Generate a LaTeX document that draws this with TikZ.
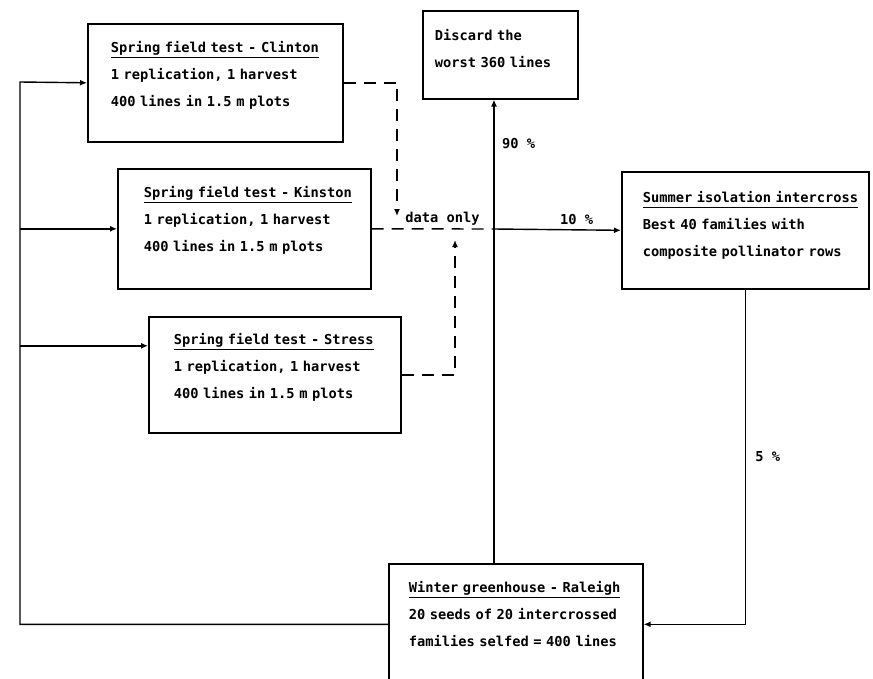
\documentclass[tikz,border=0pt]{standalone}
\usepackage{fontspec}
\setmainfont{DejaVu Sans Mono}
\usetikzlibrary{arrows.meta}
\newcommand{\ttl}[1]{\underline{#1\vphantom{g}}}

\begin{document}
\begin{tikzpicture}[x=1pt, y=-1pt, >={Latex[length=7pt, width=6pt]},
    font=\fontsize{13.7}{27}\selectfont\bfseries, line width=1.4pt]
    \tikzset{
      box/.style={draw, line width=1.6pt, anchor=north west, align=left, inner sep=0pt,
        execute at begin node={\setlength{\leftskip}{#1}}},
      box/.default=23pt,
      dataline/.style={dash pattern=on 12pt off 8pt},
    }
    \useasboundingbox (0,0) rectangle (873,678);
    \clip (0,0) rectangle (873,678);
    % test plots
    \node (clinton) [box, text width=255pt, text height=29pt, text depth=89pt] at (87,23)
        {\ttl{Spring field test - Clinton}\\1 replication, 1 harvest\\400 lines in 1.5 m plots};
    \node (kinston) [box=26pt, text width=253pt, text height=29pt, text depth=91pt] at (117,168)
        {\ttl{Spring field test - Kinston}\\1 replication, 1 harvest\\400 lines in 1.5 m plots};
    \node (stress) [box=25pt, text width=252pt, text height=28pt, text depth=88pt] at (148,316)
        {\ttl{Spring field test - Stress}\\1 replication, 1 harvest\\400 lines in 1.5 m plots};
    % selection and recombination
    \node (discard) [box=12pt, text width=155pt, text height=30pt, text depth=58pt] at (422,10)
        {Discard the\\worst 360 lines};
    \node (summer) [box=21pt, text width=247pt, text height=31pt, text depth=86pt] at (621,171)
        {\ttl{Summer isolation intercross}\\Best 40 families with\\composite pollinator rows};
    \node (winter) [box=20pt, text width=254pt, text height=29pt, text depth=92pt] at (388,563)
        {\ttl{Winter greenhouse - Raleigh}\\20 seeds of 20 intercrossed\\families selfed = 400 lines};
    % junctions
    \coordinate (hub) at (494,229);
    \coordinate (loop) at (20,82);
    \coordinate (cdrop) at (397,216);
    \coordinate (srise) at (455,240);
    \coordinate (sin) at ([yshift=29pt]stress.west);
    % main cycle
    \draw[->] (winter.west) -| (loop) -- (clinton.west);
    \draw[->] (kinston.west -| loop) -- (kinston.west);
    \draw[->] (sin -| loop) -- (sin);
    \draw (winter.north -| hub) -- (hub);
    \draw[->] (hub) -- (discard.south -| hub) node[pos=0.66, right=4pt] {90 \%};
    \draw[->] (hub) -- (summer.west) node[pos=0.65, above=1pt] {10 \%};
    \draw[->] (summer.south) |- (winter.east) node[pos=0.25, right=6pt] {5 \%};
    % data only
    \draw[dataline] (kinston.east) -- (hub) node[pos=0.58, above=0pt] {data only};
    \draw[dataline, ->] (clinton.east) -| (cdrop);
    \draw[dataline, ->] (stress.east) -| (srise);
\end{tikzpicture}
\end{document}
